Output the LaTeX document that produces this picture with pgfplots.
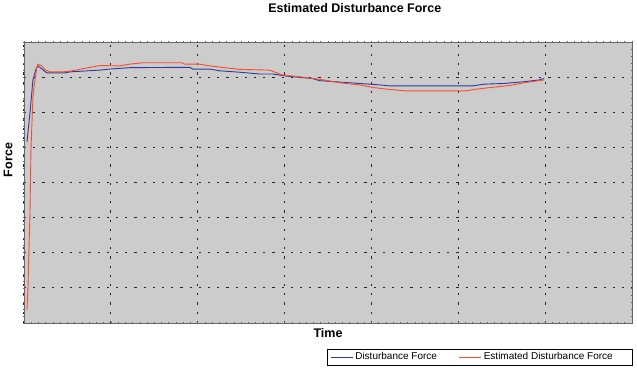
\documentclass[border=0pt]{standalone}
\usepackage{fontspec}
\setmainfont{Liberation Sans}
\usepackage{pgfplots}
\pgfplotsset{compat=1.18}
\definecolor{bgray}{HTML}{CCCCCC}
\definecolor{dblue}{HTML}{2A3A9E}
\definecolor{ored}{HTML}{FF4A24}
\begin{document}
\begin{tikzpicture}
\begin{axis}[
  scale only axis, width=608pt, height=281pt,
  xmin=0, xmax=7, ymin=0, ymax=8,
  xtick={0,...,7}, ytick={0,...,8},
  xticklabels={}, yticklabels={},
  minor x tick num=11, minor y tick num=4,
  tick align=center, major tick length=2.5pt, minor tick length=2.5pt,
  every tick/.style={gray!80!black, line width=0.6pt},
  axis background/.style={fill=bgray},
  axis line style={gray!80!black, line width=0.8pt},
  grid=major,
  major grid style={black!85, line width=1pt, dash pattern=on 2.2pt off 7pt},
  title={\fontsize{12.5}{14}\selectfont\bfseries Estimated Disturbance Force},
  title style={at={(axis description cs:0.544,1.1)}, anchor=center},
  xlabel={\fontsize{12.5}{14}\selectfont\bfseries Time},
  xlabel style={at={(axis description cs:0.5,-0.036)}, anchor=center},
  ylabel={\fontsize{12.5}{14}\selectfont\bfseries Force},
  ylabel style={at={(axis description cs:-0.026,0.58)}, anchor=center},
  legend columns=2,
  legend style={at={(axis description cs:1,-0.0925)}, anchor=north east,
    draw=black, line width=0.5pt, fill=white, inner ysep=1.5pt, inner xsep=3pt,
    font=\fontsize{10}{11}\selectfont,
    /tikz/every even column/.append style={column sep=20pt}},
  legend image code/.code={\draw[#1, line width=0.8pt] (0pt,0pt) -- (22pt,0pt);},
]
\addplot[dblue, line width=0.9pt] coordinates {
(0.034,5.15) (0.069,5.98) (0.103,6.92) (0.138,7.23) (0.161,7.32) (0.207,7.23)
(0.264,7.12) (0.471,7.12) (0.529,7.15) (0.874,7.20) (0.989,7.23) (1.218,7.27)
(1.908,7.28) (1.943,7.23) (2.138,7.23) (2.253,7.18) (2.483,7.14) (2.713,7.09)
(2.862,7.09) (3.023,7.03) (3.322,6.96) (3.402,6.90) (3.632,6.86) (3.862,6.82)
(4.092,6.78) (4.207,6.75) (5.161,6.75) (5.299,6.80) (5.529,6.82) (5.759,6.87)
(5.931,6.92) (5.989,6.96)
};
\addlegendentry{Disturbance Force}
\addplot[ored, line width=0.9pt] coordinates {
(0.034,0.37) (0.046,1.02) (0.057,2.08) (0.069,3.13) (0.080,4.93) (0.103,6.43)
(0.126,6.92) (0.149,7.29) (0.161,7.37) (0.207,7.32) (0.241,7.21) (0.299,7.15)
(0.448,7.15) (0.529,7.17) (0.724,7.26) (0.874,7.33) (1.103,7.32) (1.218,7.37)
(1.368,7.41) (1.816,7.41) (1.851,7.37) (2.023,7.37) (2.138,7.32) (2.310,7.27)
(2.483,7.22) (2.828,7.20) (2.977,7.06) (3.172,7.01) (3.402,6.94) (3.632,6.84)
(3.862,6.78) (4.034,6.70) (4.207,6.65) (4.379,6.61) (5.092,6.61) (5.184,6.65)
(5.356,6.70) (5.586,6.76) (5.759,6.84) (5.989,6.92)
};
\addlegendentry{Estimated Disturbance Force\rule{14pt}{0pt}}
\end{axis}
\pgfresetboundingbox
\path[use as bounding box] (current axis.south west) ++(-24pt,-45pt) rectangle ++(637pt,368pt);
\end{tikzpicture}
\end{document}
